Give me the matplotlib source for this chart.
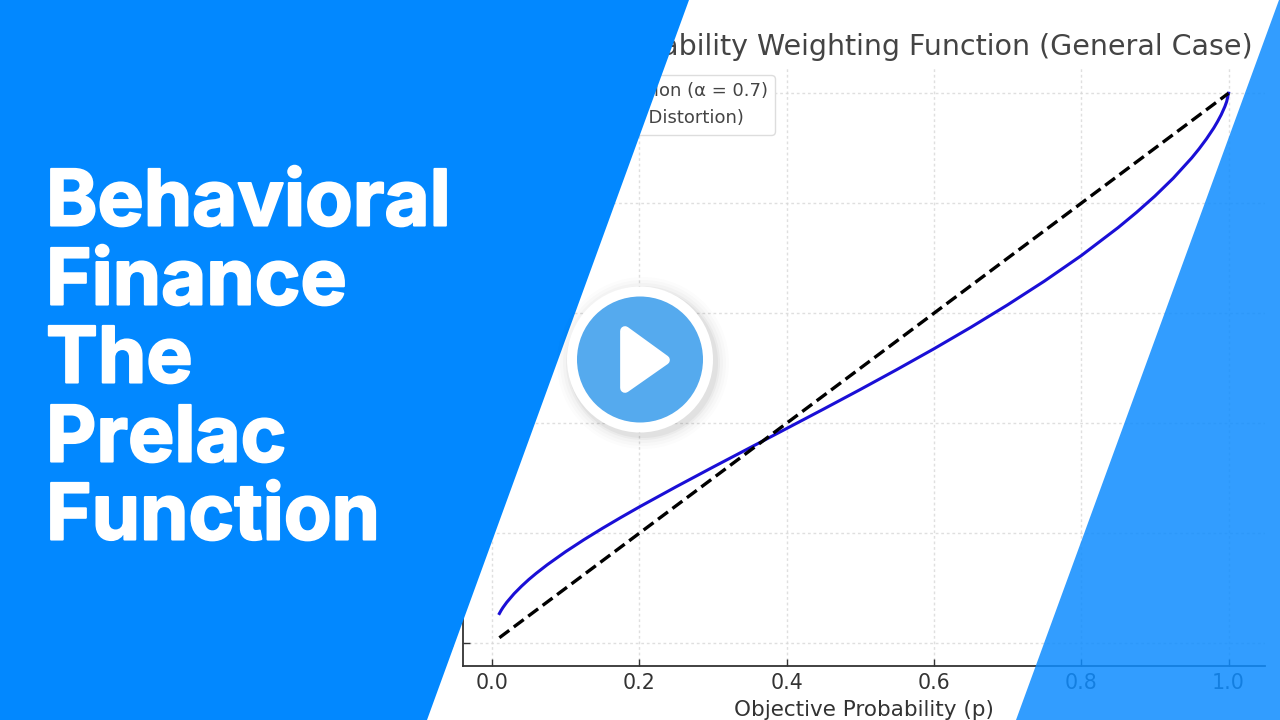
#!/usr/bin/env python3
# -*- coding: utf-8 -*-

import matplotlib
matplotlib.use("Agg")
import matplotlib.pyplot as plt
import matplotlib.patheffects as pe
from matplotlib.patches import Polygon, Circle

# values
p_values = [0.01, 0.0125, 0.015, 0.02, 0.03, 0.04, 0.05, 0.06, 0.075, 0.1, 0.125,
            0.15, 0.175, 0.2, 0.25, 0.3, 0.35, 0.4, 0.45, 0.5, 0.55, 0.6, 0.65,
            0.7, 0.75, 0.8, 0.85, 0.875, 0.9, 0.925, 0.95, 0.96, 0.97, 0.98,
            0.985, 0.99, 0.995, 0.9975, 1.0]
w_values = [0.054, 0.060, 0.0652, 0.0744, 0.0901, 0.1036, 0.1159, 0.1271, 0.1427,
            0.1665, 0.1884, 0.209, 0.2287, 0.2478, 0.2845, 0.3202, 0.3553, 0.3904,
            0.4256, 0.4613, 0.4978, 0.5353, 0.5743, 0.6152, 0.6584, 0.7047, 0.7556,
            0.7833, 0.813, 0.8456, 0.8824, 0.8989, 0.9169, 0.9369, 0.9483, 0.9608,
            0.9757, 0.985, 1.0]
line_x = [0.01, 1.0]
line_y = [0.01, 1.0]
ticks = [0.0, 0.2, 0.4, 0.6, 0.8, 1.0]
# the other y labels sit behind the blue panel in the reference
y_tick_labels = ["0.0", "", "", "", "", ""]
title_text = "Prelec Probability Weighting Function (General Case)"
curve_label = "Prelec's Function (\u03b1 = 0.7)"
line_label = "45\u00b0 Line (No Distortion)"
banner_lines = ["Behavioral", "Finance", "The", "Prelac", "Function"]
banner_y = [205, 284, 362, 441, 519]

BLUE = "#0288ff"
W, H = 1280, 720

fig = plt.figure(figsize=(12.8, 7.2), dpi=100, facecolor="white")

# the chart itself
ax = fig.add_axes([463 / W, 1 - 665.5 / H, (1265 - 463) / W, (665.5 - 66) / H])
ax.plot(p_values, w_values, color="#1a0fd6", lw=2.2, label=curve_label)
ax.plot(line_x, line_y, color="black", lw=2.4, ls=(0, (3.7, 1.7)), label=line_label)
ax.set_xlim(-0.0394, 1.0495)
ax.set_ylim(-0.0405, 1.0495)
ax.set_xticks(ticks)
ax.set_yticks(ticks, labels=y_tick_labels)
ax.tick_params(direction="in", length=5, width=1, labelsize=14.8,
               labelcolor="#333333", color="#333333", pad=5.5)
ax.grid(True, color="#d8d8d8", lw=1, ls=(0, (2, 2)), alpha=0.8)
ax.spines["top"].set_visible(False)
ax.spines["right"].set_visible(False)
ax.spines["left"].set_color("#333333")
ax.spines["bottom"].set_color("#333333")
ax.spines["left"].set_linewidth(1.3)
ax.spines["bottom"].set_linewidth(1.3)
ax.set_xlabel("Objective Probability (p)", fontsize=15.5, color="#333333", labelpad=5)
ax.set_title(title_text, fontsize=20.5, color="#444444", pad=8, x=0.985, ha="right")
ax.legend(loc="upper left", fontsize=13, borderaxespad=0.5, labelcolor="#444444",
          edgecolor="#dddddd", framealpha=1)

# thumbnail layer on top, in pixel coordinates
over = fig.add_axes([0, 0, 1, 1], facecolor="none")
over.set_xlim(0, W)
over.set_ylim(H, 0)
over.axis("off")

over.add_patch(Polygon([(0, 0), (689, 0), (427, 720), (0, 720)], color=BLUE, lw=0))
over.add_patch(Polygon([(1279, 0), (1280, 0), (1280, 720), (1016, 720)],
                       color="#0e8cff", alpha=0.85, lw=0))

for line, y in zip(banner_lines, banner_y):
    over.text(46, y, line, color="white", fontsize=56, fontweight="bold",
              family="Inter", va="center", ha="left",
              path_effects=[pe.withStroke(linewidth=1.5, foreground="white")])

# play button, soft shadow first
for r, a in [(86, 0.01), (83, 0.015), (80, 0.02), (77, 0.03), (75, 0.04)]:
    over.add_patch(Circle((643, 363), r, color="black", alpha=a, lw=0))
over.add_patch(Circle((640, 359.5), 73, color="white", lw=0))
over.add_patch(Circle((640, 359.5), 63, color="#55aaee", lw=0))
over.add_patch(Polygon([(625, 331), (625, 388), (665, 360)], closed=True,
                       facecolor="white", edgecolor="white", lw=7, joinstyle="round"))

fig.savefig("out.png", dpi=100)
